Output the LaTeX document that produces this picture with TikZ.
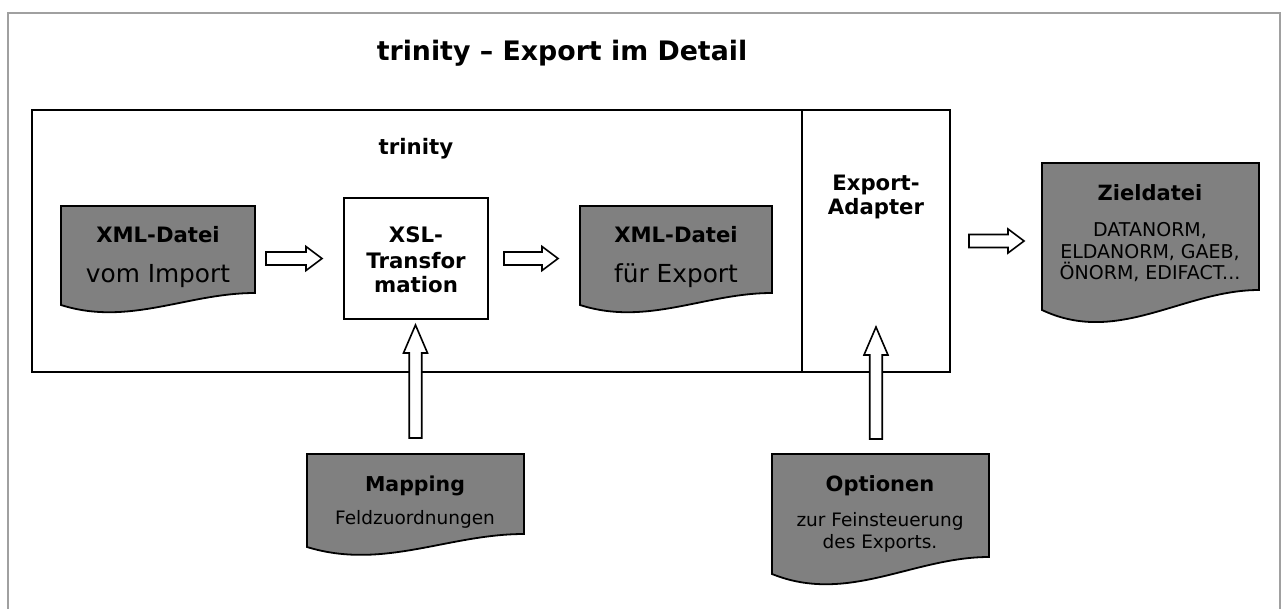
\documentclass[tikz,border=0pt]{standalone}
\usepackage{fontspec}
\setmainfont{DejaVu Sans}
\usetikzlibrary{calc}
\definecolor{docgray}{RGB}{128,128,128}
\definecolor{framegray}{RGB}{160,160,160}
\tikzset{
  region/.style={draw=black, line width=1.8pt, inner sep=0pt, outer sep=0pt, anchor=north west},
  docarea/.style={draw=none, inner sep=0pt, outer sep=0pt, anchor=north west},
  docline/.style={draw=black, line width=1.8pt, fill=docgray, line join=miter},
  blockarrow/.style={draw=black, line width=1.6pt, fill=white, line join=miter},
  lbl/.style={inner sep=0pt, outer sep=0pt, anchor=base},
  fB/.style={font=\bfseries\fontsize{#1}{#1}\selectfont},
  fR/.style={font=\fontsize{#1}{#1}\selectfont},
}
\newcommand\docshape[2]{%
  \draw[docline] let \p1=(#1.north west), \p2=(#1.south east) in
    (\x1,\y1) -- (\x2,\y1) -- (\x2,\y2)
    .. controls ({\x1+0.65*(\x2-\x1)},\y2) and ({\x1+0.35*(\x2-\x1)},{\y2-2.8*#2}) ..
    (\x1,{\y2-#2}) -- cycle;}
\newcommand\harrow[3]{%
  \draw[blockarrow] let \p1=(#1), \p2=(#2) in
    (\x1,\y1+6.5pt) -- (\x2-#3,\y1+6.5pt) -- (\x2-#3,\y1+12pt) -- (\x2,\y1)
    -- (\x2-#3,\y1-12pt) -- (\x2-#3,\y1-6.5pt) -- (\x1,\y1-6.5pt) -- cycle;}
\newcommand\uarrow[3]{%
  \draw[blockarrow] let \p1=(#1), \p2=(#2) in
    (\x1-6.25pt,\y1) -- (\x1-6.25pt,\y2-#3) -- (\x1-12pt,\y2-#3) -- (\x1,\y2)
    -- (\x1+12pt,\y2-#3) -- (\x1+6.25pt,\y2-#3) -- (\x1+6.25pt,\y1) -- cycle;}
\begin{document}
\begin{tikzpicture}[x=1pt,y=-1pt]
\useasboundingbox (0,0) rectangle (1285,608);
% outer frame
\draw[framegray, line width=2pt] (8,620) -- (8,13) -- (1280,13) -- (1280,620);
% title
\node[lbl, fB=26.8] (title) at (562,60) {trinity – Export im Detail};
% regions
\node[region, minimum width=770pt, minimum height=262pt] (trin) at (32,110) {};
\node[region, minimum width=148pt, minimum height=262pt] (adapter) at (802,110) {};
\node[lbl, fB=21.3] (trinlbl) at (416,154) {trinity};
% document areas
\node[docarea, minimum width=194pt, minimum height=87pt] (xml1) at (61,206) {};
\node[docarea, minimum width=192pt, minimum height=87pt] (xml2) at (580,206) {};
\node[docarea, minimum width=217pt, minimum height=127pt] (zd) at (1042,163) {};
\node[docarea, minimum width=217pt, minimum height=80pt] (map) at (307,454) {};
\node[docarea, minimum width=217pt, minimum height=103pt] (opt) at (772,454) {};
\docshape{xml1}{12pt}
\docshape{xml2}{12pt}
\docshape{zd}{20pt}
\docshape{map}{13pt}
\docshape{opt}{17pt}
% XSL box
\node[region, fill=white, minimum width=144pt, minimum height=121pt] (xsl) at (344,198) {};
% connector end points
\coordinate (a1s) at ($(xml1.east |- xsl.west)+(11,0)$);
\coordinate (a1e) at ($(xsl.west)+(-22,0)$);
\coordinate (a2s) at ($(xsl.east)+(16,0)$);
\coordinate (a2e) at ($(xml2.west |- xsl.east)+(-22,0)$);
\coordinate (a3s) at ($(adapter.east)+(19,0)$);
\coordinate (a3e) at ($(zd.west |- adapter.east)+(-18,0)$);
\coordinate (u1s) at ($(map.north)+(0,-16)$);
\coordinate (u1e) at ($(xsl.south)+(0,6)$);
\coordinate (u2s) at ($(opt.north -| adapter.south)+(0,-15)$);
\coordinate (u2e) at ($(adapter.south)+(0,-45)$);
\harrow{a1s}{a1e}{16pt}
\harrow{a2s}{a2e}{16pt}
\harrow{a3s}{a3e}{16pt}
\uarrow{u1s}{u1e}{28pt}
\uarrow{u2s}{u2e}{28pt}
% texts
\node[lbl, fB=21.2] (xml1a) at (158,242) {XML-Datei};
\node[lbl, fR=24.8] (xml1b) at (158,282) {vom Import};
\node[lbl, fB=21.3] (xsla) at (416,242) {XSL-};
\node[lbl, fB=21.3] (xslb) at (416,268) {Transfor};
\node[lbl, fB=21.3] (xslc) at (416,292) {mation};
\node[lbl, fB=21.2] (xml2a) at (676,242) {XML-Datei};
\node[lbl, fR=24.8] (xml2b) at (676,282) {für Export};
\node[lbl, fB=21.2] (adpa) at (876,190) {Export-};
\node[lbl, fB=21.2] (adpb) at (876,214) {Adapter};
\node[lbl, fB=21] (zda) at (1150,200) {Zieldatei};
\node[lbl, fR=19] (zdb) at (1150,236) {DATANORM,};
\node[lbl, fR=19] (zdc) at (1150,258) {ELDANORM, GAEB,};
\node[lbl, fR=19] (zdd) at (1150,279) {ÖNORM, EDIFACT...};
\node[lbl, fB=20.5] (mapa) at (415,491) {Mapping};
\node[lbl, fR=18.5] (mapb) at (415,524) {Feldzuordnungen};
\node[lbl, fB=21] (opta) at (880,491) {Optionen};
\node[lbl, fR=18.5] (optb) at (880,526) {zur Feinsteuerung};
\node[lbl, fR=18.5] (optc) at (880,548) {des Exports.};
\end{tikzpicture}
\end{document}
